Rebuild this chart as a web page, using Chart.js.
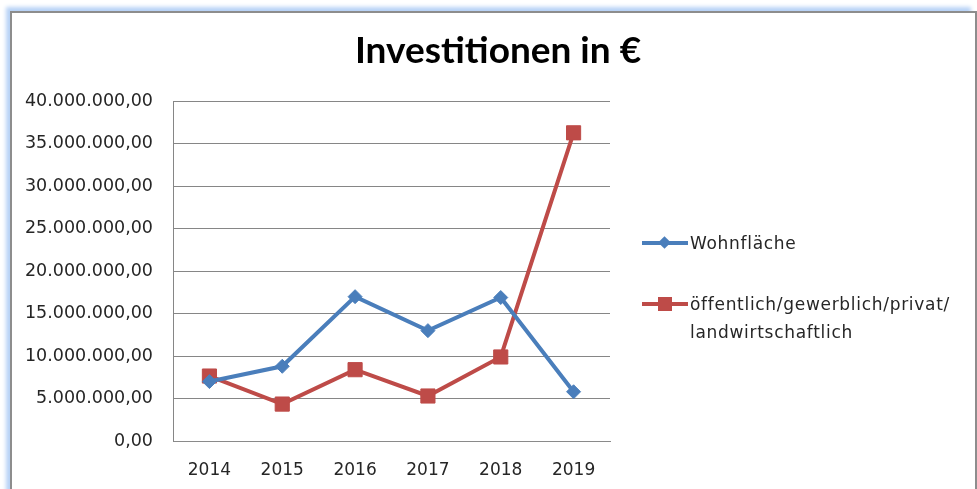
<!DOCTYPE html>
<html>
<head>
<meta charset="utf-8">
<script src="https://cdn.jsdelivr.net/npm/chart.js@4"></script>
<style>
  body { margin: 0; background: #fff; width: 977px; height: 489px; overflow: hidden; position: relative; }
  #frame {
    position: absolute; left: 10px; top: 11px; width: 963px; height: 500px;
    border-left: 2px solid #8d8d8d; border-top: 2px solid #8d8d8d; border-right: 2px solid #8d8d8d;
    box-shadow: -5px -5px 4px -1px #b7d2f6;
    background: #fff;
  }
  #wrap { position: absolute; left: 11px; top: 12px; width: 964px; height: 477px; }
  #legend { position: absolute; left: 0; top: 0; font-family: "DejaVu Sans", sans-serif; font-size: 17px; letter-spacing: 0.7px; color: #262626; }
  .item { position: absolute; left: 642px; }
  .item .line { position: absolute; left: 0; width: 46px; height: 4px; top: 12px; }
  .item .mark { position: absolute; }
  .item .txt { position: absolute; left: 48px; top: 0; line-height: 28px; white-space: nowrap; }
</style>
</head>
<body>
<div id="frame"></div>
<div id="wrap"><canvas id="chart" width="964" height="477"></canvas></div>
<div id="legend"></div>
<script>
let labels = ["2014", "2015", "2016", "2017", "2018", "2019"];
let wohnflaeche = [7000000, 8800000, 17000000, 13000000, 16900000, 5800000];
let oeffentlich = [7650000, 4350000, 8400000, 5300000, 9900000, 36300000];
let seriesNames = ["Wohnfläche", "öffentlich/gewerblich/privat/\nlandwirtschaftlich"];
let colors = ["#4A7EBB", "#BE4B48"];
let yMin = 0, yMax = 40000000, yStep = 5000000;

function formatDE(v) {
    let s = Math.round(v).toString().replace(/\B(?=(\d{3})+(?!\d))/g, ".");
    return s + ",00";
}

let ctx = document.getElementById("chart").getContext("2d");

new Chart(ctx, {
    type: 'line',
    data: {
        labels: labels,
        datasets: [{
            label: seriesNames[0],
            data: wohnflaeche,
            borderColor: colors[0],
            backgroundColor: colors[0],
            borderWidth: 4,
            pointStyle: 'rectRot',
            pointRadius: 7,
            pointBorderWidth: 1,
            tension: 0
        },
        {
            label: seriesNames[1],
            data: oeffentlich,
            borderColor: colors[1],
            backgroundColor: colors[1],
            borderWidth: 4,
            pointStyle: 'rect',
            pointRadius: 10,
            pointBorderWidth: 1,
            tension: 0
        }]
    },
    options: {
        responsive: false,
        animation: false,
        layout: { padding: { left: 10, right: 0, top: 0, bottom: 0 } },
        plugins: {
            legend: { display: false },
            tooltip: { enabled: false },
            title: {
                display: true,
                text: "Investitionen in €",
                color: "#000",
                font: { family: "Lato", size: 37, weight: "bold" },
                padding: { top: 17, bottom: 28 }
            }
        },
        scales: {
            x: {
                offset: true,
                afterFit: function (scale) { scale.height = 48; },
                grid: { display: false, drawTicks: false },
                border: { color: "#8a8a8a", width: 1 },
                ticks: { color: "#262626", padding: 19, font: { family: "DejaVu Sans", size: 17 } }
            },
            y: {
                min: yMin,
                max: yMax,
                afterFit: function (scale) { scale.width = 152; },
                grid: { color: "#868686", lineWidth: 1, drawTicks: false },
                border: { color: "#868686", width: 1 },
                ticks: {
                    stepSize: yStep,
                    color: "#262626",
                    padding: 20,
                    font: { family: "DejaVu Sans", size: 17.5 },
                    callback: function (v) { return formatDE(v); }
                }
            },
            // empty space on the right that holds the legend
            side: {
                position: 'right',
                afterFit: function (scale) { scale.width = 365; },
                grid: { display: false, drawTicks: false },
                border: { display: false },
                ticks: { display: false }
            }
        }
    }
});

// legend in HTML, Excel style on the right
let legend = document.getElementById("legend");
let tops = [229, 290];
seriesNames.forEach(function (name, i) {
    let item = document.createElement("div");
    item.className = "item";
    item.style.top = tops[i] + "px";
    let line = document.createElement("div");
    line.className = "line";
    line.style.background = colors[i];
    item.appendChild(line);
    let mark = document.createElement("div");
    mark.className = "mark";
    mark.style.background = colors[i];
    if (i === 0) {
        mark.style.width = "9px"; mark.style.height = "9px";
        mark.style.left = "18px"; mark.style.top = "9px";
        mark.style.transform = "rotate(45deg)";
    } else {
        mark.style.width = "14px"; mark.style.height = "14px";
        mark.style.left = "16px"; mark.style.top = "7px";
    }
    item.appendChild(mark);
    let txt = document.createElement("div");
    txt.className = "txt";
    txt.innerHTML = name.split("\n").join("<br>");
    item.appendChild(txt);
    legend.appendChild(item);
});
</script>
</body>
</html>
